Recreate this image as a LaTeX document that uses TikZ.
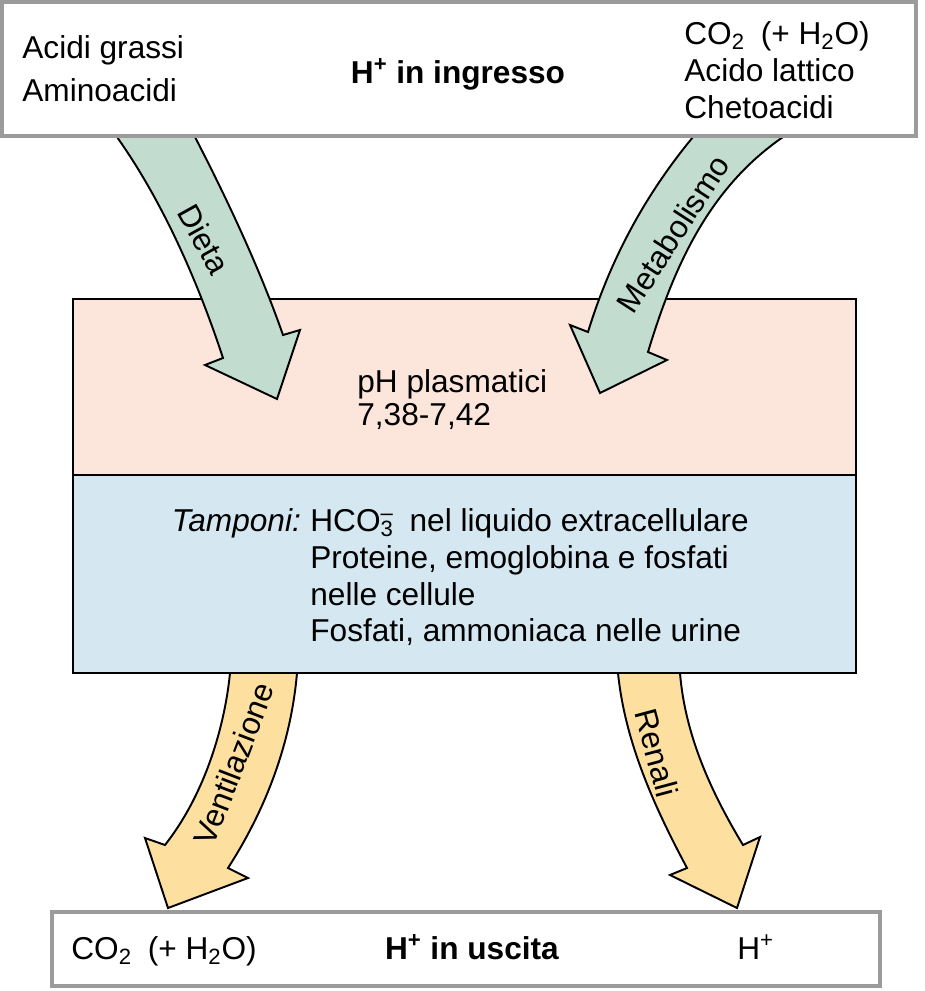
\documentclass[tikz,border=0pt]{standalone}
\usepackage{fontspec}
\setmainfont{Liberation Sans}
\usetikzlibrary{positioning, fit}
\definecolor{sage}{HTML}{C2DDD0}
\definecolor{apricot}{HTML}{FDDFA0}
\definecolor{blush}{HTML}{FCE5DB}
\definecolor{skyish}{HTML}{D5E7F1}
\definecolor{frame}{HTML}{9B9B9B}

\begin{document}
\begin{tikzpicture}[x=0.02cm, y=-0.02cm,
  every node/.style={font=\fontsize{18}{21}\selectfont, inner sep=0pt},
  endbox/.style={draw=frame, fill=white, line width=2.3pt},
  plasma/.style={draw=black, fill=blush, line width=1.1pt},
  buffer/.style={draw=black, fill=skyish, line width=1.1pt},
  fatin/.style={draw=black, fill=sage, line width=1.1pt},
  fatout/.style={draw=black, fill=apricot, line width=1.1pt},
  txt/.style={anchor=north west, align=left},
]
  \useasboundingbox (0,0) rectangle (924,991);

  % central compartments
  \node[plasma, fit={(73,299) (856,475)}] (ph) {};
  \node[buffer, fit={(73,475) (856,673)}] (tamp) {};

  % big curved arrows
  \filldraw[fatin] (117,137) .. controls (163,202) and (198,282) .. (223,358)
    -- (205,365) -- (277,399) -- (300,330) -- (283,335)
    .. controls (260,269) and (227,199) .. (195,137) -- cycle;
  \filldraw[fatin] (783,137) .. controls (709,188) and (674,266) .. (648,352)
    -- (667,360) -- (600,393) -- (570,325) -- (588,332)
    .. controls (610,260) and (645,195) .. (693,137) -- cycle;
  \filldraw[fatout] (230,673) .. controls (224,733) and (202,798) .. (165,845)
    -- (145,838) -- (168,908) -- (248,878) -- (228,868)
    .. controls (266,809) and (291,743) .. (297,673) -- cycle;
  \filldraw[fatout] (618,673) .. controls (625,742) and (654,806) .. (687,868)
    -- (670,875) -- (737,908) -- (760,837) -- (743,845)
    .. controls (711,792) and (685,735) .. (680,673) -- cycle;

  \node[rotate=-61] (dieta) at (204,239) {Dieta};
  \node[rotate=57] (metab) at (673,234) {Metabolismo};
  \node[rotate=69] (vent) at (234,764) {Ventilazione};
  \node[rotate=-75] (ren) at (657,753) {Renali};

  % input / output boxes
  \node[endbox, fit={(2,2) (916,136)}] (in) {};
  \node[endbox, fit={(52,912) (880,986)}] (out) {};

  \node[txt] (food) at (22,35) {Acidi grassi\\[3.5pt]Aminoacidi};
  \node[anchor=base] (inlbl) at (458,83) {\textbf{H\textsuperscript{+} in ingresso}};
  \node[txt] (cell) at (684,21)
    {CO\textsubscript{2}\enspace(+ H\textsubscript{2}O)\\Acido lattico\\Chetoacidi};

  \node[txt] (phval) at (357,369) {pH plasmatici\\[-2pt]7,38-7,42};
  \node[txt] (buflist) at (310,508)
    {HCO\rlap{\textsuperscript{--}}\textsubscript{3}\enspace nel liquido extracellulare\\
     Proteine, emoglobina e fosfati\\
     nelle cellule\\
     Fosfati, ammoniaca nelle urine};
  \node[anchor=north east, xshift=-5pt] (tlbl) at (buflist.north west) {\textit{Tamponi:}};

  \node[anchor=base west] (lung) at (71,959) {CO\textsubscript{2}\enspace(+ H\textsubscript{2}O)};
  \node[anchor=base] (outlbl) at (472,959) {\textbf{H\textsuperscript{+} in uscita}};
  \node[anchor=base west] (kid) at (737,959) {H\textsuperscript{+}};
\end{tikzpicture}
\end{document}
